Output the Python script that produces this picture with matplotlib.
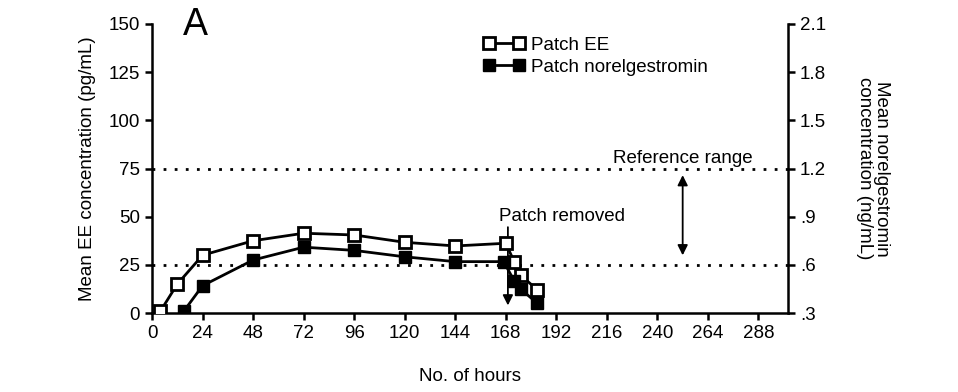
import matplotlib.pyplot as plt
from matplotlib.lines import Line2D

plt.rcParams['font.family'] = ['Liberation Sans', 'DejaVu Sans']

# Data
ee_hours = [4, 12, 24, 48, 72, 96, 120, 144, 168, 172, 175, 183]
ee_conc = [1, 15, 30, 37.5, 41.4, 40.5, 36.7, 34.8, 36.2, 26.6, 19.7, 12]

ngmn_hours = [15, 24, 48, 72, 96, 120, 144, 167, 172, 175, 183]
ngmn_conc = [0.31, 0.47, 0.63, 0.71, 0.69, 0.65, 0.62, 0.62, 0.50, 0.45, 0.36]

x_ticks = [0, 24, 48, 72, 96, 120, 144, 168, 192, 216, 240, 264, 288]
left_ticks = [0, 25, 50, 75, 100, 125, 150]
right_ticks = [0.3, 0.6, 0.9, 1.2, 1.5, 1.8, 2.1]
right_labels = ['.3', '.6', '.9', '1.2', '1.5', '1.8', '2.1']
ref_range = [25, 75]

fs = 13.5

fig = plt.figure(figsize=(9.58, 3.92), dpi=100)
ax = fig.add_axes([0.1587, 0.2015, 0.6638, 0.7373])
ax2 = ax.twinx()

# Reference range lines
for v in ref_range:
    ax.plot([0, 302], [v, v], color='black', lw=2, linestyle=(0, (1, 3)), zorder=1)

# Series
ax.plot(ee_hours, ee_conc, color='black', lw=2, marker='s', markersize=8,
        markerfacecolor='white', markeredgecolor='black', markeredgewidth=2, zorder=4)
ax2.plot(ngmn_hours, ngmn_conc, color='black', lw=2, marker='s', markersize=8,
         markerfacecolor='black', markeredgecolor='black', zorder=3)

ax.set_xlim(0, 302)
ax.set_ylim(0, 150)
ax2.set_ylim(0.3, 2.1)

ax.set_xticks(x_ticks)
ax.set_yticks(left_ticks)
ax2.set_yticks(right_ticks)
ax2.set_yticklabels(right_labels)

for a in (ax, ax2):
    a.spines['top'].set_visible(False)
    for s in a.spines.values():
        s.set_linewidth(1.8)
    a.tick_params(width=1.8, length=5, labelsize=fs, direction='out')
ax.spines['right'].set_visible(False)
ax2.spines['left'].set_visible(False)
ax2.spines['bottom'].set_visible(False)

ax.set_xlabel('No. of hours', fontsize=fs, labelpad=19)
ax.set_ylabel('Mean EE concentration (pg/mL)', fontsize=fs, labelpad=9)
ax2.set_ylabel('Mean norelgestromin\nconcentration (ng/mL)', fontsize=fs,
               rotation=270, labelpad=46, linespacing=1.0)

# Panel letter
ax.text(0.068, 0.995, 'A', transform=ax.transAxes, fontsize=27, va='center', ha='center')

# Annotations
ax.text(194.6, 50.3, 'Patch removed', fontsize=fs, ha='center', va='center')
ax.annotate('', xy=(169, 2.5), xytext=(169, 46),
            arrowprops=dict(arrowstyle='-|>', color='black', lw=1.3, mutation_scale=15))
ax.text(252, 80.4, 'Reference range', fontsize=fs, ha='center', va='center')
ax.annotate('', xy=(252, 73), xytext=(252, 28.5),
            arrowprops=dict(arrowstyle='<|-|>', color='black', lw=1.3, mutation_scale=15))

# Legend
handles = [
    Line2D([], [], color='black', lw=2, marker='s', markersize=8,
           markerfacecolor='white', markeredgewidth=2),
    Line2D([], [], color='black', lw=2, marker='s', markersize=8,
           markerfacecolor='black'),
]
leg = ax.legend(handles, ['Patch EE', 'Patch norelgestromin'], loc='upper left',
                bbox_to_anchor=(0.497, 0.925), bbox_transform=fig.transFigure,
                frameon=False, fontsize=fs, handlelength=2.2, handletextpad=0.3,
                labelspacing=0.25, numpoints=2, borderaxespad=0)

fig.savefig('out.png', dpi=100)
